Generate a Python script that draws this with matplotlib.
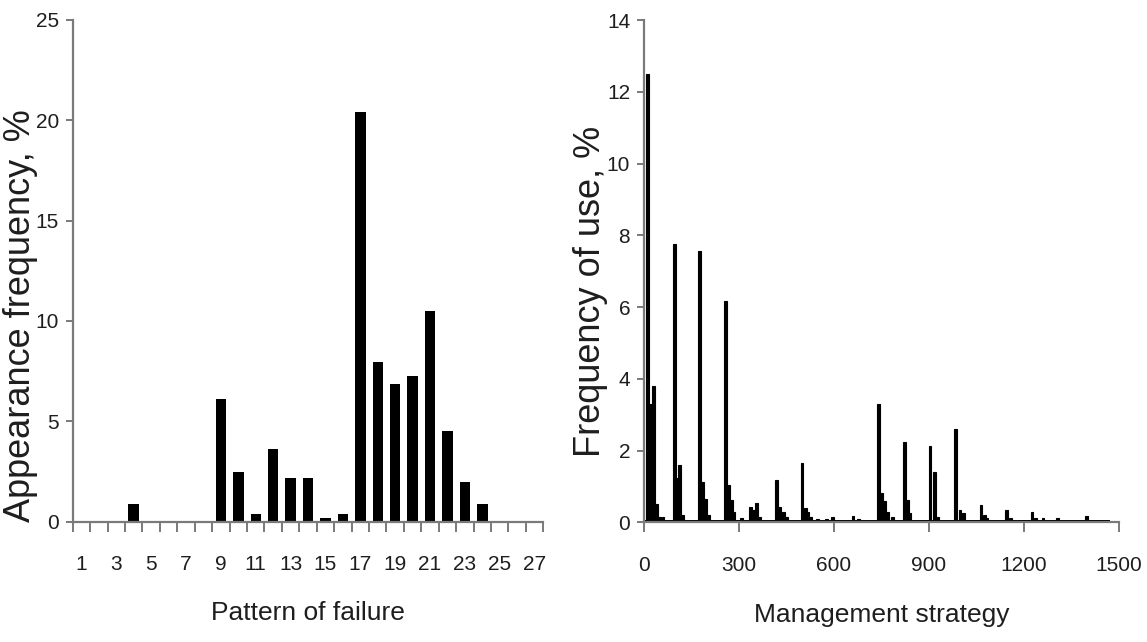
import numpy as np
import matplotlib.pyplot as plt
from matplotlib.ticker import FixedLocator

plt.rcParams['font.family'] = ['Liberation Sans', 'DejaVu Sans']

# left panel: appearance frequency of each failure pattern
patterns = np.arange(1, 28)
appearance = [0, 0, 0, 0.9, 0, 0, 0, 0, 6.1, 2.5, 0.4, 3.6, 2.2, 2.2, 0.2, 0.4,
              20.4, 7.95, 6.85, 7.25, 10.5, 4.5, 2.0, 0.9, 0, 0, 0]

# right panel: frequency of use of management strategies
strategy = [11, 20, 31, 40, 50, 60,
            95, 103, 112, 122,
            175, 185, 195, 203,
            256, 268, 276, 283,
            308, 335, 345, 355, 365,
            417, 429, 440, 449,
            499, 509, 517, 525, 549, 576, 595,
            660, 676,
            741, 751, 760, 769, 785,
            822, 831, 840,
            903, 916, 926,
            983, 998, 1010,
            1064, 1074, 1083,
            1145, 1156,
            1225, 1236, 1260, 1306, 1398]
use_freq = [12.5, 3.3, 3.8, 0.5, 0.15, 0.15,
            7.76, 1.23, 1.6, 0.2,
            7.57, 1.12, 0.66, 0.2,
            6.18, 1.03, 0.61, 0.3,
            0.12, 0.43, 0.35, 0.53, 0.14,
            1.17, 0.43, 0.3, 0.15,
            1.65, 0.41, 0.28, 0.15, 0.1, 0.1, 0.16,
            0.17, 0.1,
            3.31, 0.82, 0.6, 0.3, 0.16,
            2.24, 0.62, 0.25,
            2.14, 1.4, 0.15,
            2.6, 0.33, 0.25,
            0.49, 0.2, 0.12,
            0.35, 0.12,
            0.3, 0.12, 0.12, 0.12, 0.17]
# low background use shared by all strategies up to the last one
tail_start = [0]
tail_end = [1472]
tail_level = [0.07]

fig = plt.figure(figsize=(11.47, 6.42), dpi=100)
ax1 = fig.add_axes([0.0634, 0.1874, 0.4103, 0.7815])
ax2 = fig.add_axes([0.5615, 0.1864, 0.4141, 0.7824])

spine_col = '#7a7a7a'
text_col = '#1e1e1e'

for ax in (ax1, ax2):
    for s in ('top', 'right'):
        ax.spines[s].set_visible(False)
    for s in ('left', 'bottom'):
        ax.spines[s].set_color(spine_col)
        ax.spines[s].set_linewidth(1.6)
    ax.tick_params(colors=spine_col, labelcolor=text_col, labelsize=15, width=1.4)

ax1.bar(patterns, appearance, width=0.6, color='black')
ax1.set_xlim(0.5, 27.5)
ax1.set_ylim(0, 25)
ax1.set_yticks([0, 5, 10, 15, 20, 25])
ax1.xaxis.set_major_locator(FixedLocator(patterns[::2]))
ax1.xaxis.set_minor_locator(FixedLocator(np.arange(0.5, 28, 1)))
ax1.tick_params(axis='x', which='major', length=0, pad=24)
ax1.tick_params(axis='x', which='minor', length=7, color=spine_col, width=1.4)
ax1.tick_params(axis='y', length=5, pad=5)
ax1.set_xlabel('Pattern of failure', fontsize=19, color=text_col)
ax1.set_ylabel('Appearance frequency, %', fontsize=26, color=text_col)
ax1.xaxis.set_label_coords(0.5, -0.182)
ax1.xaxis.label.set_va('center')
ax1.yaxis.set_label_coords(-0.112, 0.41)
ax1.yaxis.label.set_va('center')

ax2.bar(tail_start, tail_level, width=np.subtract(tail_end, tail_start), align='edge', color='black')
ax2.bar(strategy, use_freq, width=9, color='black', edgecolor='black', linewidth=0.8)
ax2.set_xlim(0, 1500)
ax2.set_ylim(0, 14)
ax2.set_xticks([0, 300, 600, 900, 1200, 1500])
ax2.set_yticks([0, 2, 4, 6, 8, 10, 12, 14])
ax2.tick_params(axis='x', length=7, pad=17)
ax2.tick_params(axis='y', length=5, pad=5)
ax2.set_xlabel('Management strategy', fontsize=19, color=text_col)
ax2.set_ylabel('Frequency of use, %', fontsize=26, color=text_col)
ax2.xaxis.set_label_coords(0.5, -0.185)
ax2.xaxis.label.set_va('center')
ax2.yaxis.set_label_coords(-0.112, 0.46)
ax2.yaxis.label.set_va('center')

fig.savefig('out.png', dpi=100)
